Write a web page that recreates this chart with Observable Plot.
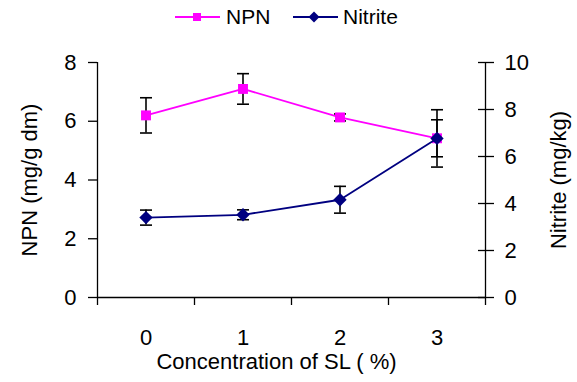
<!DOCTYPE html>
<html>
<head>
<meta charset="utf-8">
<script src="https://cdn.jsdelivr.net/npm/d3@7"></script>
<script src="https://cdn.jsdelivr.net/npm/@observablehq/plot@0.6"></script>
<style>
  body { margin: 0; background: #fff; font-family: Arial, "Liberation Sans", sans-serif; }
  #legend { position: relative; width: 577px; height: 34px; font-size: 21px; color: #000; }
  #legend .item { position: absolute; line-height: 21px; }
  #legend svg { position: absolute; }
</style>
</head>
<body>
<div id="legend"></div>
<div id="chart"></div>
<script>
// ---- data ----
const concentrations = [0, 1, 2, 3];
const concentrationLabels = ["0", "1", "2", "3"];
const seriesNames = ["NPN", "Nitrite"];
const npnValues = [6.2, 7.1, 6.13, 5.42];
const npnErrors = [0.6, 0.52, 0.12, 0.63];
const nitriteValues = [3.4, 3.52, 4.16, 6.77];
const nitriteErrors = [0.32, 0.21, 0.57, 1.22];
const npnTicks = [0, 2, 4, 6, 8];
const nitriteTicks = [0, 2, 4, 6, 8, 10];
const xTitle = "Concentration of SL ( %)";
const yLeftTitle = "NPN (mg/g dm)";
const yRightTitle = "Nitrite (mg/kg)";

const npnColor = "#FF00FF";
const nitriteColor = "#000080";

// ---- derived ----
const k = d3.max(npnTicks) / d3.max(nitriteTicks); // nitrite -> left-axis units
const rows = concentrations.map((c, i) => ({
  c,
  npn: npnValues[i], npnErr: npnErrors[i],
  nit: nitriteValues[i] * k, nitErr: nitriteErrors[i] * k
}));
const xDomain = [concentrations[0] - 0.5, concentrations[concentrations.length - 1] + 0.5];
const xBoundaries = concentrations.map(c => c - 0.5).concat([xDomain[1]]);
const yDomain = d3.extent(npnTicks);

// horizontal cap symbol for error bars
const cap = { draw(ctx, size) { const w = Math.sqrt(size / Math.PI); ctx.moveTo(-w, 0); ctx.lineTo(w, 0); } };

// ---- legend ----
const legend = document.getElementById("legend");
legend.innerHTML = `
  <svg style="left:175px;top:11px" width="46" height="12">
    <line x1="0" y1="6" x2="45" y2="6" stroke="${npnColor}" stroke-width="1.8"/>
    <rect x="18" y="2" width="8" height="8" fill="${npnColor}"/>
  </svg>
  <span class="item" style="left:226px;top:6px">${seriesNames[0]}</span>
  <svg style="left:293px;top:11px" width="46" height="12">
    <line x1="0" y1="6" x2="45" y2="6" stroke="${nitriteColor}" stroke-width="1.8"/>
    <path d="M21,0.5 L26.5,6 L21,11.5 L15.5,6 Z" fill="${nitriteColor}"/>
  </svg>
  <span class="item" style="left:343px;top:6px">${seriesNames[1]}</span>
`;

const font = "Arial, 'Liberation Sans', sans-serif";

const chart = Plot.plot({
  width: 577,
  height: 348,
  marginTop: 28,
  marginBottom: 85,
  marginLeft: 97,
  marginRight: 92,
  x: { type: "linear", domain: xDomain },
  y: { type: "linear", domain: yDomain },
  style: { fontFamily: font, fontSize: "22px", color: "black", background: "white", overflow: "visible" },
  marks: [
    // axis lines
    Plot.ruleX(xDomain, { y1: yDomain[0], y2: yDomain[1], stroke: "black", strokeWidth: 1.3 }),
    Plot.ruleY([yDomain[0]], { stroke: "black", strokeWidth: 1.3 }),
    // x axis: ticks at category boundaries, labels at centres
    Plot.axisX({ ticks: xBoundaries, tickSize: 8, tickFormat: () => "", label: null, strokeWidth: 1.3 }),
    Plot.axisX({ ticks: concentrations, tickSize: 0, tickPadding: 32, tickFormat: d => concentrationLabels[concentrations.indexOf(d)], label: null, fontSize: 22 }),
    // left axis
    Plot.axisY({ anchor: "left", ticks: npnTicks, tickSize: 9, tickPadding: 12, label: null, fontSize: 22, strokeWidth: 1.3 }),
    // right axis (nitrite)
    Plot.axisY({ anchor: "right", ticks: nitriteTicks.map(v => v * k), tickSize: 16, dx: -8, tickFormat: () => "", label: null, strokeWidth: 1.3 }),
    Plot.axisY({ anchor: "right", ticks: nitriteTicks.map(v => v * k), tickSize: 0, tickPadding: 19, tickFormat: d => String(Math.round(d / k)), label: null, fontSize: 22 }),
    // axis titles
    Plot.text([xTitle], { frameAnchor: "bottom", lineAnchor: "top", dy: 56, dx: -15, fontSize: 22 }),
    Plot.text([yLeftTitle], { frameAnchor: "left", textAnchor: "middle", rotate: -90, dx: -68, fontSize: 22 }),
    Plot.text([yRightTitle], { frameAnchor: "right", textAnchor: "middle", rotate: -90, dx: 73, fontSize: 22 }),
    // NPN series
    Plot.line(rows, { x: "c", y: "npn", stroke: npnColor, strokeWidth: 1.8 }),
    Plot.ruleX(rows, { x: "c", y1: d => d.npn - d.npnErr, y2: d => d.npn + d.npnErr, stroke: "black", strokeWidth: 1.6 }),
    Plot.dot(rows, { x: "c", y: d => d.npn - d.npnErr, symbol: cap, r: 6, fill: "none", stroke: "black", strokeWidth: 1.6 }),
    Plot.dot(rows, { x: "c", y: d => d.npn + d.npnErr, symbol: cap, r: 6, fill: "none", stroke: "black", strokeWidth: 1.6 }),
    Plot.dot(rows, { x: "c", y: "npn", symbol: "square", r: 5.6, fill: npnColor, stroke: "none" }),
    // Nitrite series
    Plot.line(rows, { x: "c", y: "nit", stroke: nitriteColor, strokeWidth: 1.8 }),
    Plot.ruleX(rows, { x: "c", y1: d => d.nit - d.nitErr, y2: d => d.nit + d.nitErr, stroke: "black", strokeWidth: 1.6 }),
    Plot.dot(rows, { x: "c", y: d => d.nit - d.nitErr, symbol: cap, r: 6, fill: "none", stroke: "black", strokeWidth: 1.6 }),
    Plot.dot(rows, { x: "c", y: d => d.nit + d.nitErr, symbol: cap, r: 6, fill: "none", stroke: "black", strokeWidth: 1.6 }),
    Plot.dot(rows, { x: "c", y: "nit", symbol: "diamond2", r: 6, fill: nitriteColor, stroke: "none" })
  ]
});
document.getElementById("chart").appendChild(chart);
</script>
</body>
</html>
